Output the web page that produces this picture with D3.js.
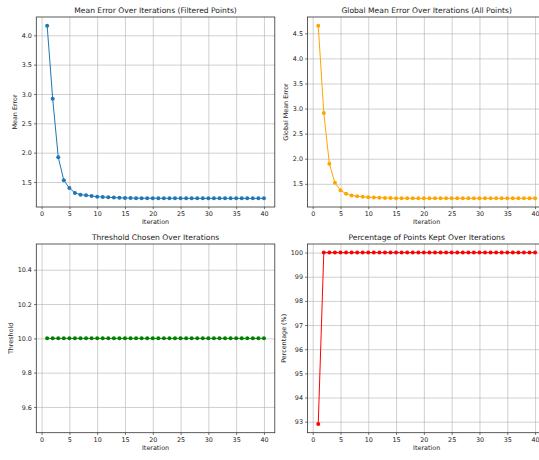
<!DOCTYPE html>
<html>
<head>
<meta charset="utf-8">
<script src="https://cdn.jsdelivr.net/npm/d3@7"></script>
<style>
  body { margin: 0; background: #fff; }
  svg { display: block; font-family: "DejaVu Sans", sans-serif; }
</style>
</head>
<body>
<svg id="chart" width="539" height="460"></svg>
<script>
// data
var iterations = [1, 2, 3, 4, 5, 6, 7, 8, 9, 10, 11, 12, 13, 14, 15, 16, 17, 18, 19, 20,
                  21, 22, 23, 24, 25, 26, 27, 28, 29, 30, 31, 32, 33, 34, 35, 36, 37, 38, 39, 40];

var meanError = [4.165, 2.92, 1.92, 1.528, 1.398, 1.313, 1.284, 1.273, 1.261, 1.25,
                 1.244, 1.239, 1.234, 1.23, 1.228, 1.226, 1.225, 1.224, 1.223, 1.223,
                 1.222, 1.222, 1.222, 1.221, 1.221, 1.221, 1.221, 1.221, 1.221, 1.221,
                 1.221, 1.221, 1.221, 1.221, 1.221, 1.221, 1.221, 1.221, 1.221, 1.221];

var globalMeanError = [4.653, 2.913, 1.90, 1.52, 1.373, 1.30, 1.267, 1.253, 1.24, 1.233,
                       1.227, 1.222, 1.218, 1.215, 1.213, 1.212, 1.211, 1.211, 1.21, 1.21,
                       1.21, 1.21, 1.21, 1.21, 1.21, 1.21, 1.21, 1.21, 1.21, 1.21,
                       1.21, 1.21, 1.21, 1.21, 1.21, 1.21, 1.21, 1.21, 1.21, 1.21];

var threshold = [10, 10, 10, 10, 10, 10, 10, 10, 10, 10,
                 10, 10, 10, 10, 10, 10, 10, 10, 10, 10,
                 10, 10, 10, 10, 10, 10, 10, 10, 10, 10,
                 10, 10, 10, 10, 10, 10, 10, 10, 10, 10];

var percentKept = [92.9, 100, 100, 100, 100, 100, 100, 100, 100, 100,
                   100, 100, 100, 100, 100, 100, 100, 100, 100, 100,
                   100, 100, 100, 100, 100, 100, 100, 100, 100, 100,
                   100, 100, 100, 100, 100, 100, 100, 100, 100, 100];

var xTicks = [0, 5, 10, 15, 20, 25, 30, 35, 40];
var meanErrorTicks = [1.5, 2.0, 2.5, 3.0, 3.5, 4.0];
var globalErrorTicks = [1.5, 2.0, 2.5, 3.0, 3.5, 4.0, 4.5];
var thresholdTicks = [9.6, 9.8, 10.0, 10.2, 10.4];
var percentTicks = [93, 94, 95, 96, 97, 98, 99, 100];

var svg = d3.select("#chart");

var TICK_FONT = 6.4,
    TITLE_FONT = 7.6,
    TICK_LEN = 2.2,
    TICK_PAD = 2.2;

// matplotlib style limits: 5% margin, constant data gets widened first
function paddedDomain(vals) {
  var lo = d3.min(vals), hi = d3.max(vals);
  if (lo === hi) {
    lo = lo - Math.abs(lo) * 0.05;
    hi = hi + Math.abs(hi) * 0.05;
  }
  var r = hi - lo;
  return [lo - r * 0.05, hi + r * 0.05];
}

function drawPanel(p) {
  var w = p.right - p.left,
      h = p.bottom - p.top;

  var x = d3.scaleLinear()
    .domain(paddedDomain(iterations))
    .range([0, w]);
  var y = d3.scaleLinear()
    .domain(paddedDomain(p.values))
    .range([h, 0]);

  var g = svg.append("g")
    .attr("transform", "translate(" + p.left + "," + p.top + ")");

  // GRID
  var xGrid = d3.axisBottom(x).tickValues(xTicks).tickSize(-h).tickFormat("");
  var yGrid = d3.axisLeft(y).tickValues(p.ticks).tickSize(-w).tickFormat("");
  g.append("g").attr("class", "grid")
    .attr("transform", "translate(0," + h + ")")
    .call(xGrid);
  g.append("g").attr("class", "grid")
    .call(yGrid);
  g.selectAll(".grid path").remove();
  g.selectAll(".grid line")
    .attr("stroke", "#b0b0b0")
    .attr("stroke-width", 0.6);

  // LINE + MARKERS
  var pts = iterations.map(function(it, i) { return [it, p.values[i]]; });
  var line = d3.line()
    .x(function(d) { return x(d[0]); })
    .y(function(d) { return y(d[1]); });

  g.append("path")
    .datum(pts)
    .attr("fill", "none")
    .attr("stroke", p.color)
    .attr("stroke-width", 1)
    .attr("d", line);

  g.selectAll("circle.pt")
    .data(pts)
    .enter().append("circle")
      .attr("class", "pt")
      .attr("cx", function(d) { return x(d[0]); })
      .attr("cy", function(d) { return y(d[1]); })
      .attr("r", 2)
      .attr("fill", p.color);

  // AXES
  var xAxis = d3.axisBottom(x)
    .tickValues(xTicks)
    .tickSize(TICK_LEN)
    .tickPadding(TICK_PAD)
    .tickFormat(d3.format("d"));
  var yAxis = d3.axisLeft(y)
    .tickValues(p.ticks)
    .tickSize(TICK_LEN)
    .tickPadding(TICK_PAD)
    .tickFormat(d3.format(p.fmt));

  var xg = g.append("g")
    .attr("transform", "translate(0," + h + ")")
    .call(xAxis);
  var yg = g.append("g").call(yAxis);

  [xg, yg].forEach(function(a) {
    a.select("path").remove();
    a.selectAll("line").attr("stroke", "#333").attr("stroke-width", 0.7);
    a.selectAll("text")
      .attr("fill", "#222")
      .style("font-size", TICK_FONT + "px")
      .style("font-family", "DejaVu Sans, sans-serif");
  });

  // SPINES
  g.append("rect")
    .attr("x", 0).attr("y", 0)
    .attr("width", w).attr("height", h)
    .attr("fill", "none")
    .attr("stroke", "#333")
    .attr("stroke-width", 0.8);

  // TITLE
  g.append("text")
    .attr("x", w / 2)
    .attr("y", -4)
    .attr("text-anchor", "middle")
    .attr("fill", "#222")
    .style("font-size", TITLE_FONT + "px")
    .text(p.title);

  // X LABEL
  g.append("text")
    .attr("x", w / 2)
    .attr("y", h + 17.2)
    .attr("text-anchor", "middle")
    .attr("fill", "#222")
    .style("font-size", TICK_FONT + "px")
    .text("Iteration");

  // Y LABEL - placed left of the widest tick label
  var minLeft = 0;
  yg.selectAll("text").each(function() {
    var b = this.getBBox();
    if (b.x < minLeft) minLeft = b.x;
  });
  g.append("text")
    .attr("transform", "translate(" + (minLeft - 4.6) + "," + (h / 2) + ") rotate(-90)")
    .attr("text-anchor", "middle")
    .attr("fill", "#222")
    .style("font-size", TICK_FONT + "px")
    .text(p.ylabel);
}

drawPanel({
  left: 36.3, right: 274.8, top: 17, bottom: 207,
  values: meanError, ticks: meanErrorTicks, fmt: ".1f",
  color: "#1f77b4",
  title: "Mean Error Over Iterations (Filtered Points)",
  ylabel: "Mean Error"
});

drawPanel({
  left: 307.4, right: 545.9, top: 17, bottom: 207,
  values: globalMeanError, ticks: globalErrorTicks, fmt: ".1f",
  color: "#ffa500",
  title: "Global Mean Error Over Iterations (All Points)",
  ylabel: "Global Mean Error"
});

drawPanel({
  left: 36.3, right: 274.8, top: 244, bottom: 432.7,
  values: threshold, ticks: thresholdTicks, fmt: ".1f",
  color: "#008000",
  title: "Threshold Chosen Over Iterations",
  ylabel: "Threshold"
});

drawPanel({
  left: 307.4, right: 545.9, top: 244, bottom: 432.7,
  values: percentKept, ticks: percentTicks, fmt: "d",
  color: "#ff0000",
  title: "Percentage of Points Kept Over Iterations",
  ylabel: "Percentage (%)"
});
</script>
</body>
</html>
